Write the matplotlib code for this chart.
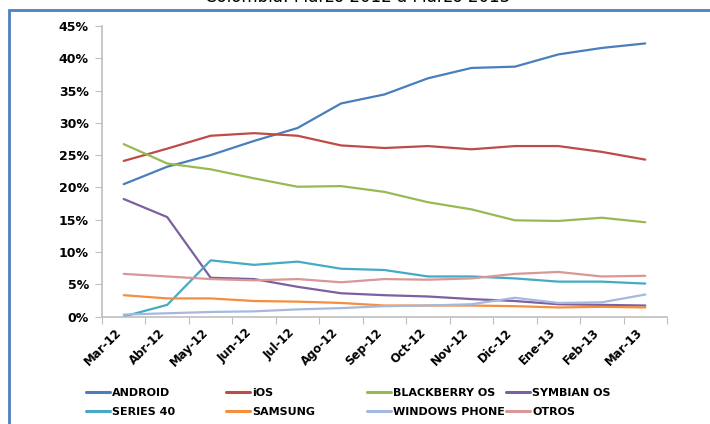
import numpy as np
import matplotlib
matplotlib.use("Agg")
import matplotlib.pyplot as plt
from matplotlib.patches import Rectangle
from matplotlib.ticker import FuncFormatter

# meses (Marzo 2012 a Marzo 2013)
months = ["Mar-12", "Abr-12", "May-12", "Jun-12", "Jul-12", "Ago-12", "Sep-12",
          "Oct-12", "Nov-12", "Dic-12", "Ene-13", "Feb-13", "Mar-13"]

# participacion en %
android = [20.5, 23.2, 25.0, 27.2, 29.2, 33.0, 34.4, 36.9, 38.5, 38.7, 40.6, 41.6, 42.3]
ios = [24.1, 26.0, 28.0, 28.4, 28.0, 26.5, 26.1, 26.4, 25.9, 26.4, 26.4, 25.5, 24.3]
blackberry = [26.7, 23.7, 22.8, 21.4, 20.1, 20.2, 19.3, 17.7, 16.6, 14.9, 14.8, 15.3, 14.6]
symbian = [18.2, 15.4, 6.0, 5.8, 4.6, 3.6, 3.3, 3.1, 2.7, 2.4, 1.9, 1.8, 1.7]
series40 = [0.0, 1.8, 8.7, 8.0, 8.5, 7.4, 7.2, 6.2, 6.2, 5.9, 5.4, 5.4, 5.1]
samsung = [3.3, 2.8, 2.8, 2.4, 2.3, 2.1, 1.7, 1.7, 1.7, 1.6, 1.4, 1.5, 1.4]
windows_phone = [0.3, 0.5, 0.7, 0.8, 1.1, 1.3, 1.6, 1.7, 1.9, 2.9, 2.1, 2.2, 3.4]
otros = [6.6, 6.2, 5.8, 5.6, 5.8, 5.3, 5.8, 5.7, 5.9, 6.6, 6.9, 6.2, 6.3]

series = [
    ("ANDROID", android, "#4A7EBB"),
    ("iOS", ios, "#BE4B48"),
    ("BLACKBERRY OS", blackberry, "#98B954"),
    ("SYMBIAN OS", symbian, "#7D60A0"),
    ("SERIES 40", series40, "#46AAC5"),
    ("SAMSUNG", samsung, "#F38F3E"),
    ("WINDOWS PHONE", windows_phone, "#A5B9E0"),
    ("OTROS", otros, "#D99795"),
]

plt.rcParams['font.family'] = ['DejaVu Sans']

fig = plt.figure(figsize=(7.1, 4.24), dpi=100)
ax = fig.add_axes([102 / 710, 1 - 316.5 / 424, 565 / 710, 290.5 / 424])

x = np.arange(len(months))
lines = {}
for name, vals, col in series:
    lines[name], = ax.plot(x, vals, color=col, lw=1.6, label=name, solid_capstyle='round')

ax.set_xlim(-0.5, len(months) - 0.5)
ax.set_ylim(0, 45)
ax.set_yticks(np.arange(0, 46, 5))
ax.yaxis.set_major_formatter(FuncFormatter(lambda v, p: "%d%%" % v))

# ticks between categories, labels at categories
ax.set_xticks(np.arange(-0.5, len(months), 1.0))
ax.set_xticklabels([])
ax.set_xticks(x, minor=True)
ax.set_xticklabels(months, minor=True, rotation=45, ha='right', va='top',
                   fontsize=8.5, fontweight='bold')
ax.tick_params(axis='x', which='minor', length=0, pad=7)
ax.tick_params(axis='x', which='major', length=5, color='#BFBFBF', direction='out')
ax.tick_params(axis='y', length=5, color='#BFBFBF', direction='out', pad=4.5,
               labelsize=9)
for lab in ax.get_yticklabels():
    lab.set_fontweight('bold')

for s in ['top', 'right']:
    ax.spines[s].set_visible(False)
for s in ['left', 'bottom']:
    ax.spines[s].set_color('#BFBFBF')
    ax.spines[s].set_linewidth(1.2)

# legend: 4 columns with equal spacing, like Excel
cols = [("ANDROID", "SERIES 40"), ("iOS", "SAMSUNG"),
        ("BLACKBERRY OS", "WINDOWS PHONE"), ("SYMBIAN OS", "OTROS")]
col_x = [86, 226, 367, 506]
for names, cx in zip(cols, col_x):
    leg = fig.legend([lines[n] for n in names], list(names), loc='center left',
                     bbox_to_anchor=(cx / 710, 1 - 402.5 / 424), frameon=False,
                     borderpad=0, borderaxespad=0, handlelength=2.15,
                     handletextpad=0.2, labelspacing=0.85,
                     prop={'size': 8, 'weight': 'bold'})
    for h in leg.get_lines():
        h.set_linewidth(2.2)

# chart area frame
fig.patches.append(Rectangle((9 / 710, -0.2), 2.0, 1.2 + (1 - 9.5 / 424) - 1.0,
                             transform=fig.transFigure, fill=False,
                             edgecolor='#4F81BD', lw=2, zorder=5))

# title sits above the frame, partly cut off as in the original
fig.text(358 / 710, 1 - 2.5 / 424, "Colombia: Marzo 2012 a Marzo 2013",
         ha='center', va='baseline', fontsize=12)

fig.savefig("out.png", dpi=100)
